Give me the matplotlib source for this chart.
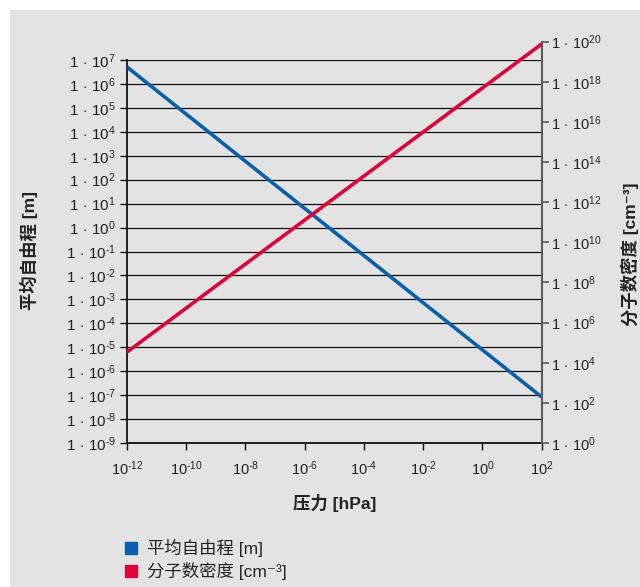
import math
import matplotlib
import matplotlib.pyplot as plt
from matplotlib.lines import Line2D
from matplotlib.patches import Rectangle
from matplotlib.ticker import FixedLocator, FuncFormatter, NullLocator

matplotlib.use("Agg")

plt.rcParams["font.family"] = ["Liberation Sans", "Noto Sans CJK SC", "DejaVu Sans"]
plt.rcParams["mathtext.fontset"] = "custom"
plt.rcParams["mathtext.rm"] = "Liberation Sans"
plt.rcParams["mathtext.it"] = "Liberation Sans:italic"
plt.rcParams["mathtext.bf"] = "Liberation Sans:bold"

# pressure range [hPa] and the two quantities at its ends
pressure = [1e-12, 1e2]
mean_free_path = [5.1e6, 8.3e-8]      # m
number_density = [3.4e4, 7.7e19]      # cm^-3

x_ticks = [1e-12, 1e-10, 1e-8, 1e-6, 1e-4, 1e-2, 1e0, 1e2]
left_exps = list(range(-9, 8))
right_exps = list(range(0, 21, 2))

BLUE = "#0760a9"
RED = "#dc0537"
BG = "#e3e3e3"
TXT = "#222222"


def exp_str(v):
    e = round(math.log10(v))
    return ("\u2010" + str(-e)) if e < 0 else str(e)


def one_times(v, p):
    return r"1$\,\cdot\,$10$^{%s}$" % exp_str(v)


def ten_pow(v, p):
    return r"10$^{%s}$" % exp_str(v)


W, H = 640, 587
fig = plt.figure(figsize=(W / 100, H / 100), dpi=100, facecolor="white")
fig.add_artist(Rectangle((10 / W, 0), 1, (H - 10) / H, transform=fig.transFigure,
                         facecolor=BG, edgecolor="none", zorder=-10))

x0, x1 = 127, 541.7
ax = fig.add_axes([x0 / W, (H - 443) / H, (x1 - x0) / W, (443 - 60) / H])
ax2 = fig.add_axes([x0 / W, (H - 443) / H, (x1 - x0) / W, (443 - 41.7) / H], sharex=ax)
for a in (ax, ax2):
    a.set_facecolor("none")
    a.set_xscale("log")
    a.set_yscale("log")

ax.set_xlim(pressure[0], pressure[1])
ax.set_ylim(10.0 ** left_exps[0], 10.0 ** left_exps[-1])
ax2.set_ylim(10.0 ** right_exps[0], 10.0 ** right_exps[-1])

# left axis: mean free path
ax.plot(pressure, mean_free_path, color=BLUE, lw=2.6, solid_capstyle="butt", zorder=3)
ax.yaxis.set_major_locator(FixedLocator([10.0 ** e for e in left_exps]))
ax.yaxis.set_minor_locator(NullLocator())
ax.yaxis.set_major_formatter(FuncFormatter(one_times))
ax.xaxis.set_major_locator(FixedLocator(x_ticks))
ax.xaxis.set_minor_locator(NullLocator())
ax.xaxis.set_major_formatter(FuncFormatter(ten_pow))
ax.grid(axis="y", color="#111111", lw=0.9)
ax.tick_params(axis="both", direction="out", length=5, width=1, color="#111111",
               labelsize=11, labelcolor=TXT)
ax.tick_params(axis="x", labelsize=10.5, pad=7)
ax.tick_params(axis="y", pad=3)
for s in ("top", "right"):
    ax.spines[s].set_visible(False)
for s in ("left", "bottom"):
    ax.spines[s].set_linewidth(1.3)
    ax.spines[s].set_color("#111111")

# right axis: molecular number density
ax2.plot(pressure, number_density, color=RED, lw=2.6, solid_capstyle="butt", zorder=3)
for s in ("top", "left", "bottom"):
    ax2.spines[s].set_visible(False)
ax2.spines["right"].set_color("#5a5a5a")
ax2.spines["right"].set_linewidth(1.5)
ax2.yaxis.tick_right()
ax2.yaxis.set_major_locator(FixedLocator([10.0 ** e for e in right_exps]))
ax2.yaxis.set_minor_locator(NullLocator())
ax2.yaxis.set_major_formatter(FuncFormatter(one_times))
ax2.tick_params(axis="y", direction="out", length=5, width=1.2, color="#5a5a5a",
                labelsize=10.5, labelcolor=TXT, pad=2)
ax2.tick_params(axis="x", which="both", bottom=False, labelbottom=False)

fig.text(335 / W, 1 - 503 / H, "压力 [hPa]", ha="center", va="center",
         fontsize=12.5, fontweight="bold", color=TXT)
fig.text(29 / W, 1 - 250 / H, "平均自由程 [m]", ha="center", va="center",
         rotation=90, fontsize=12.5, fontweight="bold", color=TXT)
fig.text(630 / W, 1 - 254 / H, "分子数密度 [cm⁻³]", ha="center", va="center",
         rotation=90, fontsize=12.5, fontweight="bold", color=TXT)

handles = [
    Line2D([], [], ls="none", marker="s", ms=9, color=BLUE, label="平均自由程 [m]"),
    Line2D([], [], ls="none", marker="s", ms=9, color=RED, label="分子数密度 [cm⁻³]"),
]
fig.legend(handles=handles, loc="upper left", bbox_to_anchor=(115 / W, 1 - 530 / H),
           frameon=False, fontsize=12.5, handlelength=0.8, handletextpad=0.55,
           labelspacing=0.28, borderpad=0, labelcolor=TXT)

fig.savefig("out.png", dpi=100, facecolor="white")
